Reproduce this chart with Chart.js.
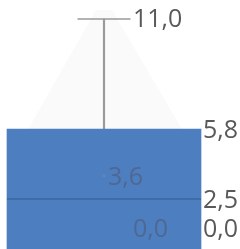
<!DOCTYPE html>
<html>
<head>
<meta charset="utf-8">
<script src="https://cdn.jsdelivr.net/npm/chart.js@4"></script>
<style>
  html, body { margin: 0; padding: 0; background: #fff; }
  #wrap { width: 240px; height: 249px; }
</style>
</head>
<body>
<div id="wrap"><canvas id="grafico"></canvas></div>
<script>
// box plot stats, one category
const categorias = ['A'];
const minimo = [0.0];
const q1 = [0.0];
const mediana = [2.5];
const q3 = [5.8];
const maximo = [11.0];
const media = [3.6];

const fmt = v => v.toFixed(1).replace('.', ',');
const corTexto = '#595959';
const fonte = '25px "Open Sans"';

// sombra clara atras do bigode + rotulos
const rotulos = {
    id: 'rotulos',
    beforeDatasetsDraw(chart) {
        const c = chart.ctx;
        const y = chart.scales.y;
        const meta = chart.getDatasetMeta(0).data[0];
        const cx = meta.x;
        const yTop = y.getPixelForValue(maximo[0]) - 9;
        const yBase = y.getPixelForValue(q3[0]);
        c.save();
        c.fillStyle = '#fafafa';
        c.beginPath();
        c.moveTo(cx - 8, yTop);
        c.lineTo(cx + 8, yTop);
        c.lineTo(cx + 78, yBase);
        c.lineTo(cx - 76, yBase);
        c.closePath();
        c.fill();
        c.restore();
    },
    afterDatasetsDraw(chart) {
        const c = chart.ctx;
        const y = chart.scales.y;
        const bar = chart.getDatasetMeta(0).data[0];
        const dir = bar.x + bar.width / 2 + 2;
        const limite = chart.chartArea.bottom - 19;
        c.save();
        c.font = fonte;
        c.textBaseline = 'middle';
        c.textAlign = 'left';
        c.fillStyle = corTexto;
        c.fillText(fmt(maximo[0]), bar.x + 29, y.getPixelForValue(maximo[0]) + 1);
        c.fillText(fmt(q3[0]), dir, y.getPixelForValue(q3[0]) + 2);
        c.fillText(fmt(mediana[0]), dir, y.getPixelForValue(mediana[0]) + 2);
        c.fillText(fmt(q1[0]), dir, Math.min(y.getPixelForValue(q1[0]), limite));
        c.fillStyle = '#4f6893';
        c.fillText(fmt(minimo[0]), bar.x + 29, Math.min(y.getPixelForValue(minimo[0]), limite));
        c.fillText(fmt(media[0]), bar.x + 4, y.getPixelForValue(media[0]) + 2);
        c.restore();
    }
};

new Chart(document.getElementById('grafico'), {
    type: 'bar',
    data: {
        labels: categorias,
        datasets: [
            {
                // caixa q1..q3
                data: q1.map((v, i) => [v, q3[i]]),
                backgroundColor: '#4d7ebf',
                borderWidth: 0,
                barThickness: 194,
                grouped: false,
                order: 5
            },
            {
                // bigode superior
                data: q3.map((v, i) => [v, maximo[i]]),
                backgroundColor: '#9a9a9a',
                borderWidth: 0,
                barThickness: 1.5,
                grouped: false,
                order: 6
            },
            {
                type: 'line',
                data: maximo,
                showLine: false,
                pointStyle: 'line',
                pointRadius: 26.5,
                borderColor: '#9a9a9a',
                borderWidth: 1.5,
                clip: false,
                order: 1
            },
            {
                type: 'line',
                data: mediana,
                showLine: false,
                pointStyle: 'line',
                pointRadius: 97,
                borderColor: '#3d679c',
                borderWidth: 1.5,
                clip: false,
                order: 1
            },
            {
                type: 'line',
                data: media,
                showLine: false,
                pointStyle: 'crossRot',
                pointRadius: 2,
                borderColor: '#6f8ab8',
                borderWidth: 1,
                clip: false,
                order: 0
            }
        ]
    },
    options: {
        responsive: true,
        maintainAspectRatio: false,
        animation: false,
        layout: { autoPadding: false, padding: { left: 0, right: 32, top: 0, bottom: 0 } },
        scales: {
            x: { display: false },
            y: { display: false, min: 0.14, max: 11.9 }
        },
        plugins: {
            legend: { display: false },
            tooltip: { enabled: false }
        }
    },
    plugins: [rotulos]
});
</script>
</body>
</html>
